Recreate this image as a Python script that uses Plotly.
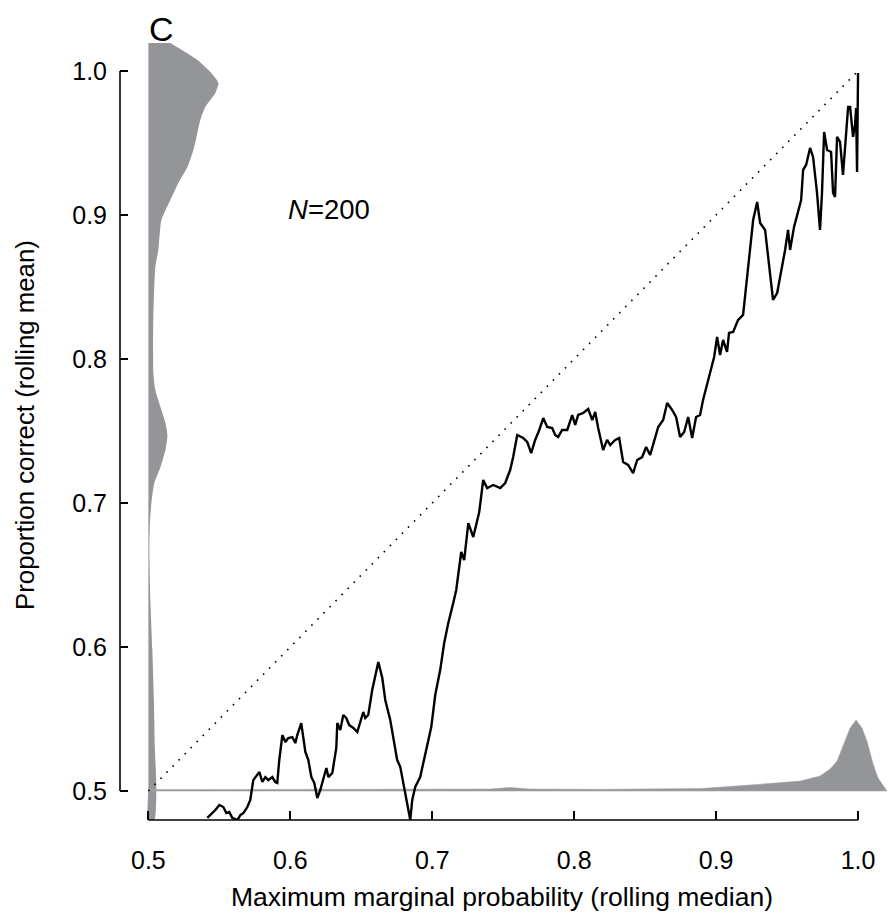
import plotly.graph_objects as go

# ---- black curve: rolling median of max marginal prob (x) vs rolling mean proportion correct (y)
curve_x = [0.5415, 0.5472, 0.5500, 0.5528, 0.5549, 0.5570, 0.5592, 0.5627, 0.5648, 0.5669,
           0.5697, 0.5718, 0.5739, 0.5768, 0.5782, 0.5803, 0.5824, 0.5845, 0.5873, 0.5894,
           0.5908, 0.5922, 0.5944, 0.5965, 0.5986, 0.6014, 0.6035, 0.6049, 0.6077, 0.6092,
           0.6106, 0.6127, 0.6148, 0.6169, 0.6190, 0.6211, 0.6232, 0.6254, 0.6268, 0.6296,
           0.6310, 0.6324, 0.6331, 0.6352, 0.6373, 0.6394, 0.6415, 0.6444, 0.6472, 0.6493,
           0.6514, 0.6528, 0.6549, 0.6577, 0.6599, 0.6620, 0.6648, 0.6669, 0.6704, 0.6732,
           0.6753, 0.6775, 0.6796, 0.6817, 0.6831, 0.6845, 0.6859, 0.6880, 0.6915, 0.6937,
           0.6965, 0.6993, 0.7021, 0.7056, 0.7084, 0.7113, 0.7148, 0.7169, 0.7204, 0.7225,
           0.7254, 0.7289, 0.7331, 0.7359, 0.7387, 0.7430, 0.7479, 0.7514, 0.7549, 0.7570,
           0.7599, 0.7641, 0.7669, 0.7697, 0.7725, 0.7754, 0.7782, 0.7810, 0.7845, 0.7866,
           0.7887, 0.7915, 0.7951, 0.7986, 0.8007, 0.8028, 0.8063, 0.8099, 0.8127, 0.8148,
           0.8169, 0.8204, 0.8232, 0.8254, 0.8289, 0.8317, 0.8345, 0.8380, 0.8415, 0.8444,
           0.8479, 0.8507, 0.8535, 0.8570, 0.8592, 0.8627, 0.8655, 0.8690, 0.8718, 0.8746,
           0.8775, 0.8803, 0.8831, 0.8859, 0.8887, 0.8908, 0.8937, 0.8965, 0.8986, 0.9007,
           0.9028, 0.9049, 0.9077, 0.9091, 0.9120, 0.9134, 0.9155, 0.9190, 0.9211, 0.9239,
           0.9261, 0.9289, 0.9310, 0.9345, 0.9366, 0.9387, 0.9401, 0.9430, 0.9465, 0.9486,
           0.9507, 0.9521, 0.9549, 0.9570, 0.9599, 0.9613, 0.9634, 0.9662, 0.9683, 0.9711,
           0.9732, 0.9746, 0.9761, 0.9782, 0.9810, 0.9824, 0.9838, 0.9852, 0.9873, 0.9894,
           0.9915, 0.9930, 0.9944, 0.9965, 0.9979, 0.9986, 0.9993, 0.9997, 1.0000]
curve_y = [0.4813, 0.4868, 0.4903, 0.4889, 0.4847, 0.4854, 0.4813, 0.4799, 0.4833, 0.4847,
           0.4889, 0.4938, 0.5076, 0.5111, 0.5132, 0.5063, 0.5097, 0.5076, 0.5097, 0.5063,
           0.5056, 0.5215, 0.5389, 0.5340, 0.5368, 0.5375, 0.5333, 0.5389, 0.5472, 0.5368,
           0.5271, 0.5215, 0.5097, 0.5056, 0.4951, 0.5007, 0.5076, 0.5160, 0.5097, 0.5125,
           0.5215, 0.5299, 0.5472, 0.5424, 0.5528, 0.5507, 0.5458, 0.5438, 0.5410, 0.5472,
           0.5549, 0.5507, 0.5528, 0.5701, 0.5792, 0.5896, 0.5785, 0.5632, 0.5493, 0.5333,
           0.5215, 0.5167, 0.5056, 0.4938, 0.4847, 0.4799, 0.4938, 0.5028, 0.5097, 0.5194,
           0.5333, 0.5444, 0.5667, 0.5840, 0.6028, 0.6167, 0.6306, 0.6396, 0.6660, 0.6604,
           0.6861, 0.6764, 0.6937, 0.7160, 0.7104, 0.7125, 0.7104, 0.7139, 0.7229, 0.7319,
           0.7472, 0.7451, 0.7424, 0.7347, 0.7438, 0.7507, 0.7590, 0.7528, 0.7521, 0.7472,
           0.7458, 0.7507, 0.7507, 0.7611, 0.7542, 0.7611, 0.7625, 0.7653, 0.7576, 0.7632,
           0.7521, 0.7368, 0.7438, 0.7403, 0.7438, 0.7451, 0.7285, 0.7264, 0.7208, 0.7299,
           0.7319, 0.7389, 0.7333, 0.7458, 0.7528, 0.7576, 0.7694, 0.7646, 0.7597, 0.7458,
           0.7493, 0.7597, 0.7451, 0.7597, 0.7611, 0.7715, 0.7819, 0.7924, 0.8014, 0.8153,
           0.8028, 0.8132, 0.8049, 0.8181, 0.8188, 0.8222, 0.8271, 0.8306, 0.8500, 0.8757,
           0.8965, 0.9090, 0.8944, 0.8896, 0.8708, 0.8500, 0.8410, 0.8458, 0.8639, 0.8757,
           0.8896, 0.8757, 0.8917, 0.9000, 0.9104, 0.9313, 0.9347, 0.9465, 0.9403, 0.9153,
           0.8896, 0.9153, 0.9576, 0.9451, 0.9437, 0.9153, 0.9125, 0.9542, 0.9507, 0.9278,
           0.9542, 0.9750, 0.9750, 0.9542, 0.9625, 0.9743, 0.9299, 0.9819, 0.9986]

# ---- marginal density of proportion correct (drawn along the y axis, from x = 0.5)
ydens_y = [1.0194, 1.0076, 0.9993, 0.9917, 0.9847, 0.9750, 0.9660, 0.9569, 0.9451, 0.9333,
           0.9222, 0.9104, 0.8965, 0.8757, 0.8639, 0.8292, 0.7903, 0.7785, 0.7667, 0.7556,
           0.7472, 0.7368, 0.7250, 0.7139, 0.7000, 0.6861, 0.6674, 0.6326, 0.5979, 0.5632,
           0.5285, 0.5028, 0.4799]
ydens_w = [0.0155, 0.0345, 0.0437, 0.0493, 0.0472, 0.0401, 0.0366, 0.0345, 0.0317, 0.0275,
           0.0211, 0.0155, 0.0092, 0.0070, 0.0049, 0.0035, 0.0035, 0.0049, 0.0085, 0.0120,
           0.0134, 0.0120, 0.0085, 0.0042, 0.0021, 0.0011, 0.0007, 0.0014, 0.0028, 0.0039,
           0.0046, 0.0056, 0.0042]

# ---- marginal density of max marginal probability (drawn along y = 0.5)
xdens_x = [0.5000, 0.6070, 0.7127, 0.7408, 0.7549, 0.7690, 0.8183, 0.8887, 0.9239, 0.9592,
           0.9732, 0.9803, 0.9852, 0.9894, 0.9944, 0.9986, 1.0028, 1.0063, 1.0106, 1.0141,
           1.0176, 1.0204]
xdens_h = [0.0010, 0.0010, 0.0012, 0.0014, 0.0025, 0.0014, 0.0012, 0.0017, 0.0042, 0.0069,
           0.0104, 0.0153, 0.0208, 0.0313, 0.0438, 0.0493, 0.0438, 0.0347, 0.0188, 0.0090,
           0.0035, 0.0000]

tick_vals = [0.5, 0.6, 0.7, 0.8, 0.9, 1.0]
tick_text = ["0.5", "0.6", "0.7", "0.8", "0.9", "1.0"]
base = 0.5
n_label = "<i>N</i>=200"
panel_label = "C"

GRAY = "#939598"
FONT = "Liberation Sans, Arial, Helvetica, sans-serif"

fig = go.Figure()

# left density polygon
poly_x = [base + w for w in ydens_w] + [base for _ in ydens_y[::-1]]
poly_y = ydens_y + ydens_y[::-1]
fig.add_trace(go.Scatter(x=poly_x, y=poly_y, fill="toself", fillcolor=GRAY,
                         line=dict(width=0, shape="spline", smoothing=0.6), mode="lines",
                         hoverinfo="skip", showlegend=False))

# bottom density polygon
poly_x2 = xdens_x + xdens_x[::-1]
poly_y2 = [base + h for h in xdens_h] + [base for _ in xdens_x]
fig.add_trace(go.Scatter(x=poly_x2, y=poly_y2, fill="toself", fillcolor=GRAY,
                         line=dict(width=0.6, color="#a7a9ac"), mode="lines",
                         hoverinfo="skip", showlegend=False))

# identity (dotted)
fig.add_trace(go.Scatter(x=[tick_vals[0], tick_vals[-1]], y=[tick_vals[0], tick_vals[-1]],
                         mode="lines", line=dict(color="black", width=1.6, dash="1.6px,7px"),
                         showlegend=False))

# main curve
fig.add_trace(go.Scatter(x=curve_x, y=curve_y, mode="lines",
                         line=dict(color="black", width=2.4), showlegend=False))

fig.update_layout(
    width=888, height=918,
    margin=dict(l=120, r=0, t=43, b=98),
    paper_bgcolor="white", plot_bgcolor="white",
    font=dict(family=FONT, size=25, color="black"),
    xaxis=dict(range=[0.48, 1.0211], showgrid=False, zeroline=False, showline=False,
               tickvals=tick_vals, ticktext=tick_text, ticks="inside", ticklen=9,
               tickwidth=1.6, tickcolor="black", ticklabelstandoff=23,
               tickfont=dict(size=25)),
    yaxis=dict(range=[0.4799, 1.0194], showgrid=False, zeroline=False, showline=False,
               tickvals=tick_vals, ticktext=tick_text, ticks="inside", ticklen=8,
               tickwidth=1.6, tickcolor="black", ticklabelstandoff=12,
               tickfont=dict(size=25)),
    shapes=[
        dict(type="line", xref="x", yref="paper", x0=tick_vals[0], x1=tick_vals[-1], y0=0, y1=0,
             line=dict(color="black", width=1.6)),
        dict(type="line", xref="paper", yref="y", x0=0, x1=0, y0=tick_vals[0], y1=tick_vals[-1],
             line=dict(color="black", width=1.6)),
    ],
    annotations=[
        dict(text="Maximum marginal probability (rolling median)", xref="paper", yref="paper",
             x=(502 - 120) / 768, y=-(897 - 820) / 777, showarrow=False,
             font=dict(size=26.5), xanchor="center", yanchor="middle"),
        dict(text="Proportion correct (rolling mean)", xref="paper", yref="paper",
             x=-(120 - 25) / 768, y=(820 - 425) / 777, showarrow=False, textangle=-90,
             font=dict(size=25.8), xanchor="center", yanchor="middle"),
        dict(text=n_label, xref="paper", yref="paper", x=(329 - 120) / 768,
             y=(820 - 210) / 777, showarrow=False, font=dict(size=27.5),
             xanchor="center", yanchor="middle"),
        dict(text=panel_label, xref="paper", yref="paper", x=(161 - 120) / 768,
             y=(820 - 29) / 777, showarrow=False, font=dict(size=34),
             xanchor="center", yanchor="middle"),
    ],
)

fig.write_html("out.html", config={"displayModeBar": False},
               post_script="document.body.style.margin='0';document.body.style.overflow='hidden';")
